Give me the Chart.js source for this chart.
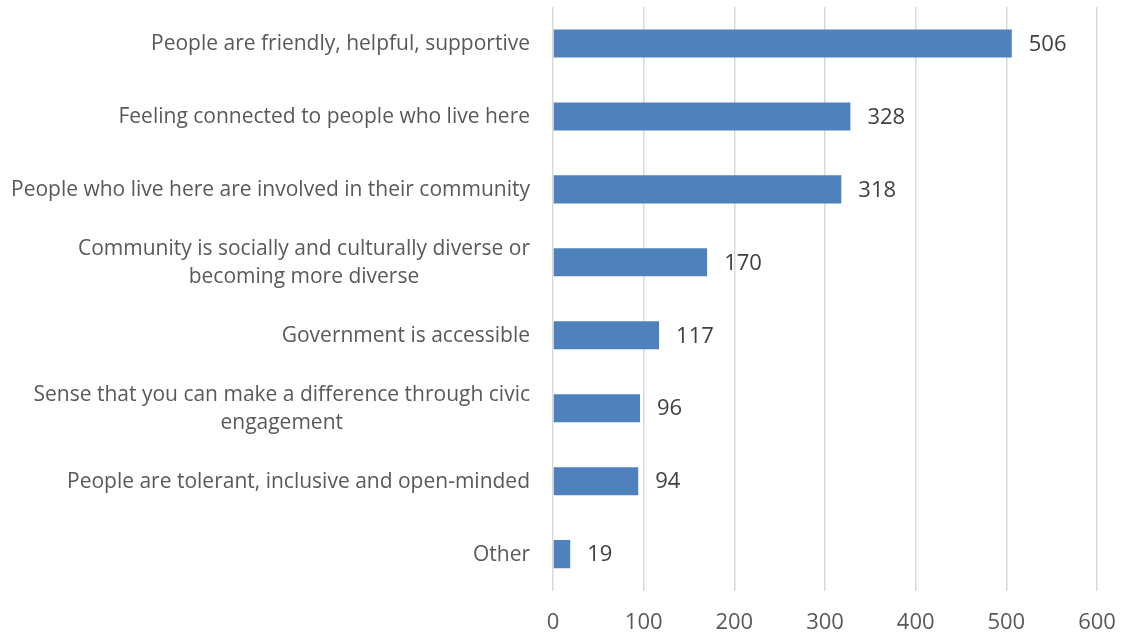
<!DOCTYPE html>
<html>
<head>
<meta charset="utf-8">
<script src="https://cdn.jsdelivr.net/npm/chart.js@4.4.1/dist/chart.umd.min.js"></script>
<style>
  html, body { margin: 0; padding: 0; background: #fff; }
  #wrap { width: 1129px; height: 634px; }
</style>
</head>
<body>
<div id="wrap"><canvas id="barChart" width="1129" height="634"></canvas></div>
<script>
// answers (each entry is one or two lines of the axis label)
const categories = [
  ['People are friendly, helpful, supportive'],
  ['Feeling connected to people who live here'],
  ['People who live here are involved in their community'],
  ['Community is socially and culturally diverse or', 'becoming more diverse'],
  ['Government is accessible'],
  ['Sense that you can make a difference through civic', 'engagement'],
  ['People are tolerant, inclusive and open-minded'],
  ['Other']
];
const counts = [506, 328, 318, 170, 117, 96, 94, 19];
const xTicks = [0, 100, 200, 300, 400, 500, 600];

const FONT = '"Open Sans", "Liberation Sans", sans-serif';
const TEXT = '#595959';

// category labels: block right-aligned to the axis, lines centred within the block
const catLabels = {
  id: 'catLabels',
  afterDraw(chart) {
    const ctx = chart.ctx;
    const y = chart.scales.y;
    const right = chart.chartArea.left - 23;
    const lh = 28;
    ctx.save();
    ctx.font = '21px ' + FONT;
    ctx.fillStyle = TEXT;
    ctx.textBaseline = 'middle';
    ctx.textAlign = 'center';
    categories.forEach((lines, i) => {
      const cy = y.getPixelForValue(i) + 1;
      const w = Math.max(...lines.map(l => ctx.measureText(l).width));
      const cx = right - w / 2;
      const top = cy - (lines.length - 1) * lh / 2;
      lines.forEach((l, k) => ctx.fillText(l, cx, top + k * lh));
    });
    ctx.restore();
  }
};

// value at the end of each bar
const valueLabels = {
  id: 'valueLabels',
  afterDatasetsDraw(chart) {
    const ctx = chart.ctx;
    const meta = chart.getDatasetMeta(0);
    ctx.save();
    ctx.font = '22px ' + FONT;
    ctx.fillStyle = '#404040';
    ctx.textBaseline = 'middle';
    ctx.textAlign = 'left';
    meta.data.forEach((bar, i) => {
      ctx.fillText(String(counts[i]), bar.x + 17, bar.y + 1);
    });
    ctx.restore();
  }
};

new Chart(document.getElementById('barChart').getContext('2d'), {
  type: 'bar',
  data: {
    labels: categories.map(c => c.join(' ')),
    datasets: [{
      data: counts,
      backgroundColor: '#4f81bd',
      borderWidth: 0,
      categoryPercentage: 1,
      barPercentage: 0.385
    }]
  },
  options: {
    indexAxis: 'y',
    responsive: false,
    animation: false,
    layout: { padding: { left: 545, right: 32, top: 7, bottom: -21 } },
    plugins: {
      legend: { display: false },
      tooltip: { enabled: false }
    },
    scales: {
      x: {
        min: xTicks[0],
        max: xTicks[xTicks.length - 1],
        afterBuildTicks(scale) {
          scale.ticks = xTicks.map(v => ({ value: v }));
        },
        // let the layout padding alone decide where the plot ends
        afterFit(scale) {
          scale.paddingLeft = 0;
          scale.paddingRight = 0;
        },
        grid: { color: '#d9d9d9', lineWidth: 1.5, drawTicks: false },
        border: { display: false },
        ticks: {
          padding: 19,
          color: TEXT,
          font: { family: FONT, size: 22 }
        }
      },
      y: {
        grid: { display: false },
        border: { display: false },
        ticks: { display: false }
      }
    }
  },
  plugins: [catLabels, valueLabels]
});
</script>
</body>
</html>
